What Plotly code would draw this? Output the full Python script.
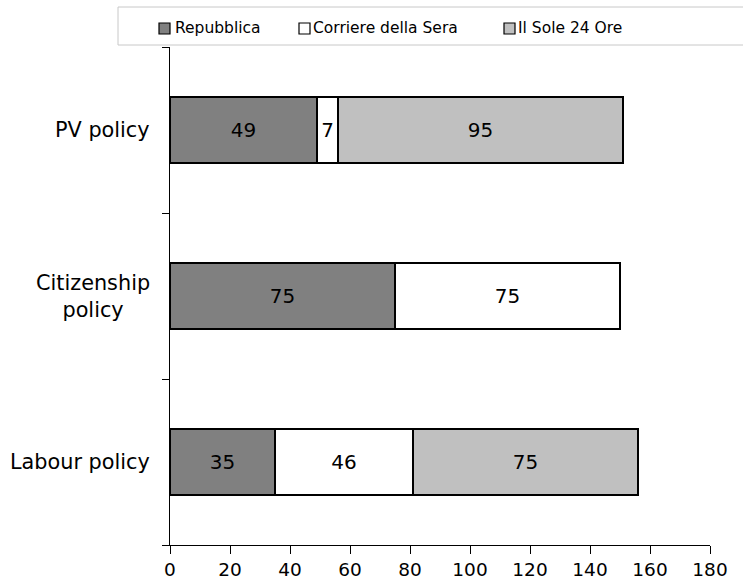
import plotly.graph_objects as go

categories = ["Labour policy", "Citizenship policy", "PV policy"]
category_labels = ["Labour policy", "Citizenship<br>policy", "PV policy"]
series_names = ["Repubblica", "Corriere della Sera", "Il Sole 24 Ore"]
repubblica = [35, 75, 49]
corriere = [46, 75, 7]
sole = [75, None, 95]
colors = ["#808080", "#ffffff", "#c0c0c0"]
x_ticks = [0, 20, 40, 60, 80, 100, 120, 140, 160, 180]

W, H = 743, 582
L, R, T, B = 170, 33, 47, 37
PW, PH = W - L - R, H - T - B


def px_x(p):
    return (p - L) / PW


def px_y(p):
    return (H - B - p) / PH


fig = go.Figure()
for name, vals, col in zip(series_names, [repubblica, corriere, sole], colors):
    fig.add_trace(go.Bar(
        y=categories, x=vals, name=name, orientation="h",
        marker=dict(color=col, line=dict(color="#000000", width=1.5)),
        text=[("" if v is None else str(v)) for v in vals],
        textposition="inside", insidetextanchor="middle",
        textfont=dict(family="DejaVu Sans", size=20, color="#000000"),
        width=0.4, showlegend=False,
    ))

shapes = []
annotations = []
# legend box
shapes.append(dict(type="rect", xref="paper", yref="paper",
                   x0=px_x(118), x1=px_x(750), y0=px_y(45), y1=px_y(7),
                   line=dict(color="#c8c8c8", width=1), fillcolor="rgba(0,0,0,0)", layer="above"))
legend_sq_x = [159, 299, 504]
legend_tx_x = [173, 311, 516]
for name, col, sx, tx in zip(series_names, colors, legend_sq_x, legend_tx_x):
    shapes.append(dict(type="rect", xref="paper", yref="paper",
                       x0=px_x(sx), x1=px_x(sx + 11), y0=px_y(34), y1=px_y(23),
                       line=dict(color="#000000", width=1.2), fillcolor=col, layer="above"))
    annotations.append(dict(text=name, xref="paper", yref="paper", x=px_x(tx), y=px_y(28.5),
                            xanchor="left", yanchor="middle", showarrow=False,
                            font=dict(family="DejaVu Sans", size=15.5, color="#000000")))
# category labels
for cat, lab in zip(categories, category_labels):
    annotations.append(dict(text=lab, xref="paper", yref="y", x=px_x(152), y=cat,
                            xanchor="right", yanchor="middle", align="center", showarrow=False,
                            font=dict(family="DejaVu Sans", size=20.8, color="#000000")))

fig.update_layout(
    barmode="stack",
    width=W, height=H,
    margin=dict(l=L, r=R, t=T, b=B, autoexpand=False),
    paper_bgcolor="white", plot_bgcolor="white",
    font=dict(family="DejaVu Sans", size=19, color="#000000"),
    showlegend=False,
    shapes=shapes, annotations=annotations,
)
fig.update_xaxes(
    range=[0, 180], tickvals=x_ticks, ticktext=[str(v) for v in x_ticks],
    showgrid=False, zeroline=False, showline=True, linecolor="#000000", linewidth=1,
    ticks="outside", ticklen=8, tickcolor="#000000", ticklabelstandoff=0,
    tickfont=dict(family="DejaVu Sans", size=18.5), automargin=False,
)
fig.update_yaxes(
    range=[-0.5, 2.5], showgrid=False, zeroline=False, showline=True,
    linecolor="#000000", linewidth=1, ticks="outside", ticklen=7, tickcolor="#000000",
    tickson="boundaries", showticklabels=False, categoryorder="array", categoryarray=categories,
    automargin=False,
)

fig.write_html("out.html")
